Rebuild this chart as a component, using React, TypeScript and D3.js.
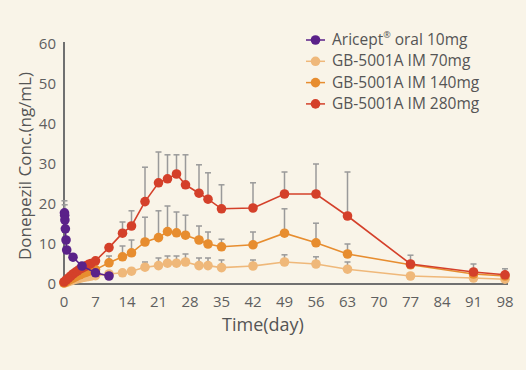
import React, { useEffect, useRef } from "react";
import * as d3 from "d3";

const W = 526;
const H = 370;
const MARGIN = { top: 44, right: 21, bottom: 86, left: 64 };

// shared sampling days for the IM groups
const imDays = [0, 0.5, 1, 1.5, 2, 2.5, 3, 3.5, 4, 4.5, 5, 5.5, 6, 7, 10, 13, 15, 18, 21, 23, 25, 27, 30, 32, 35, 42, 49, 56, 63, 77, 91, 98];

const im70 = [0.2, 0.4, 0.6, 0.8, 1.0, 1.2, 1.3, 1.5, 1.6, 1.7, 1.8, 1.9, 2.0, 2.1, 2.5, 2.8, 3.2, 4.2, 4.6, 5.2, 5.2, 5.5, 4.6, 4.6, 4.1, 4.5, 5.5, 5.0, 3.7, 2.0, 1.5, 1.2];
const im70Upper = [null, null, null, null, null, null, null, null, null, null, null, null, null, null, null, null, null, 5.5, 6.5, 7, 7, 7.5, 6.5, 6.5, 6, 6, 7.3, 6.8, 5.5, null, null, null];

const im140 = [0.3, 0.6, 0.9, 1.2, 1.5, 1.8, 2.1, 2.3, 2.6, 2.8, 3.0, 3.2, 3.4, 3.6, 5.3, 6.8, 7.8, 10.5, 11.6, 13.1, 12.8, 12.2, 11.0, 10.0, 9.3, 9.8, 12.7, 10.3, 7.5, 4.8, 2.5, 2.0];
const im140Upper = [null, null, null, null, null, null, null, null, null, null, null, null, null, null, 7, 9.5, 11, 16.7, 18.3, 19.5, 18, 17.2, 14.5, 13, 11.2, 13, 18.8, 15.2, 10, null, null, null];

const im280 = [0.5, 1.0, 1.5, 2.0, 2.5, 2.9, 3.3, 3.7, 4.0, 4.3, 4.6, 4.9, 5.1, 5.8, 9.1, 12.7, 14.5, 20.6, 25.3, 26.3, 27.5, 24.8, 22.7, 21.2, 18.8, 19.0, 22.5, 22.5, 17.0, 5.0, 3.0, 2.3];
const im280Upper = [null, null, null, null, null, null, null, null, null, null, null, null, null, null, null, 15.5, 18.3, 29.2, 33, 32.3, 32.3, 32.3, 29.8, 27.8, 24.8, 25.3, 28, 30, 28, 7.2, 5, 3.8];

const oralDays = [0.1, 0.15, 0.2, 0.3, 0.45, 0.6, 2, 4, 7, 10];
const oral10 = [17.8, 17.2, 16, 13.8, 11, 8.5, 6.7, 4.5, 2.8, 2.0];
const oral10Upper = [20.8, 19.8, null, null, null, null, null, null, null, null];

const xTicks = [0, 7, 14, 21, 28, 35, 42, 49, 56, 63, 70, 77, 84, 91, 98];
const yTicks = [0, 10, 20, 30, 40, 50, 60];

const legendLabels = ["Aricept|®| oral 10mg", "GB-5001A IM 70mg", "GB-5001A IM 140mg", "GB-5001A IM 280mg"];
const colors = ["#5a2189", "#efb87a", "#e78d2f", "#d4402a"];

const FONT = "'Open Sans', sans-serif";

export default function App() {
  const svgRef = useRef<SVGSVGElement | null>(null);

  useEffect(() => {
    const svg = d3.select(svgRef.current);
    svg.selectAll("*").remove();

    svg.append("rect").attr("width", W).attr("height", H).attr("fill", "#f9f4e8");

    const x = d3.scaleLinear().domain([0, 98]).range([MARGIN.left, W - MARGIN.right]);
    const y = d3.scaleLinear().domain([0, 60]).range([H - MARGIN.bottom, MARGIN.top]);

    // axes
    const axisColor = "#707070";
    svg.append("line")
      .attr("x1", x(0)).attr("x2", x(0))
      .attr("y1", y(0)).attr("y2", y(60) - 2)
      .attr("stroke", axisColor).attr("stroke-width", 2);
    svg.append("line")
      .attr("x1", x(0)).attr("x2", x(98) + 3)
      .attr("y1", y(0)).attr("y2", y(0))
      .attr("stroke", axisColor).attr("stroke-width", 2);

    svg.append("g").selectAll("text").data(yTicks).join("text")
      .attr("x", 56).attr("y", (d) => y(d) + 1)
      .attr("text-anchor", "end").attr("dominant-baseline", "middle")
      .attr("font-family", FONT).attr("font-size", 15).attr("fill", "#5f5f5f")
      .text((d) => d);

    svg.append("g").selectAll("text").data(xTicks).join("text")
      .attr("x", (d) => x(d)).attr("y", 303)
      .attr("text-anchor", "middle").attr("dominant-baseline", "middle")
      .attr("font-family", FONT).attr("font-size", 15).attr("fill", "#5f5f5f")
      .text((d) => d);

    svg.append("text")
      .attr("transform", `translate(26,166) rotate(-90)`)
      .attr("text-anchor", "middle").attr("dominant-baseline", "middle")
      .attr("font-family", FONT).attr("font-size", 17).attr("fill", "#555")
      .text("Donepezil Conc.(ng/mL)");

    svg.append("text")
      .attr("x", 263).attr("y", 326)
      .attr("text-anchor", "middle").attr("dominant-baseline", "middle")
      .attr("font-family", FONT).attr("font-size", 18).attr("fill", "#555")
      .text("Time(day)");

    const series = [
      { days: imDays, vals: im70, upper: im70Upper, color: colors[1] },
      { days: imDays, vals: im140, upper: im140Upper, color: colors[2] },
      { days: imDays, vals: im280, upper: im280Upper, color: colors[3] },
      { days: oralDays, vals: oral10, upper: oral10Upper, color: colors[0] },
    ];

    // error bars first, under the marks
    series.forEach((s) => {
      const g = svg.append("g");
      s.days.forEach((d, i) => {
        const u = s.upper[i];
        if (u == null) return;
        g.append("line")
          .attr("x1", x(d)).attr("x2", x(d))
          .attr("y1", y(s.vals[i])).attr("y2", y(u))
          .attr("stroke", "#9a9a9a").attr("stroke-width", 1.5);
        g.append("line")
          .attr("x1", x(d) - 3).attr("x2", x(d) + 3)
          .attr("y1", y(u)).attr("y2", y(u))
          .attr("stroke", "#9a9a9a").attr("stroke-width", 1.5);
      });
    });

    series.forEach((s) => {
      const pts: [number, number][] = s.days.map((d, i) => [x(d), y(s.vals[i])]);
      svg.append("path")
        .attr("d", d3.line()(pts)!)
        .attr("fill", "none").attr("stroke", s.color).attr("stroke-width", 1.6);
      svg.append("g").selectAll("circle").data(pts).join("circle")
        .attr("cx", (p) => p[0]).attr("cy", (p) => p[1]).attr("r", 4.8)
        .attr("fill", s.color);
    });

    // legend
    const lg = svg.append("g");
    legendLabels.forEach((label, i) => {
      const cy = 40 + i * 21.3;
      lg.append("line")
        .attr("x1", 306).attr("x2", 325).attr("y1", cy).attr("y2", cy)
        .attr("stroke", colors[i]).attr("stroke-width", 1.5);
      lg.append("circle").attr("cx", 315.5).attr("cy", cy).attr("r", 4.8).attr("fill", colors[i]);
      const t = lg.append("text")
        .attr("x", 332).attr("y", cy + 1)
        .attr("dominant-baseline", "middle")
        .attr("font-family", FONT).attr("font-size", 15.5).attr("fill", "#555");
      label.split("|").forEach((part, j) => {
        const sp = t.append("tspan").text(part);
        if (j === 1) sp.attr("font-size", 9).attr("dy", -5);
        if (j === 2) sp.attr("dy", 5);
      });
    });
  }, []);

  return (
    <svg
      ref={svgRef}
      width={W}
      height={H}
      style={{ position: "absolute", left: 0, top: 0 }}
    />
  );
}
